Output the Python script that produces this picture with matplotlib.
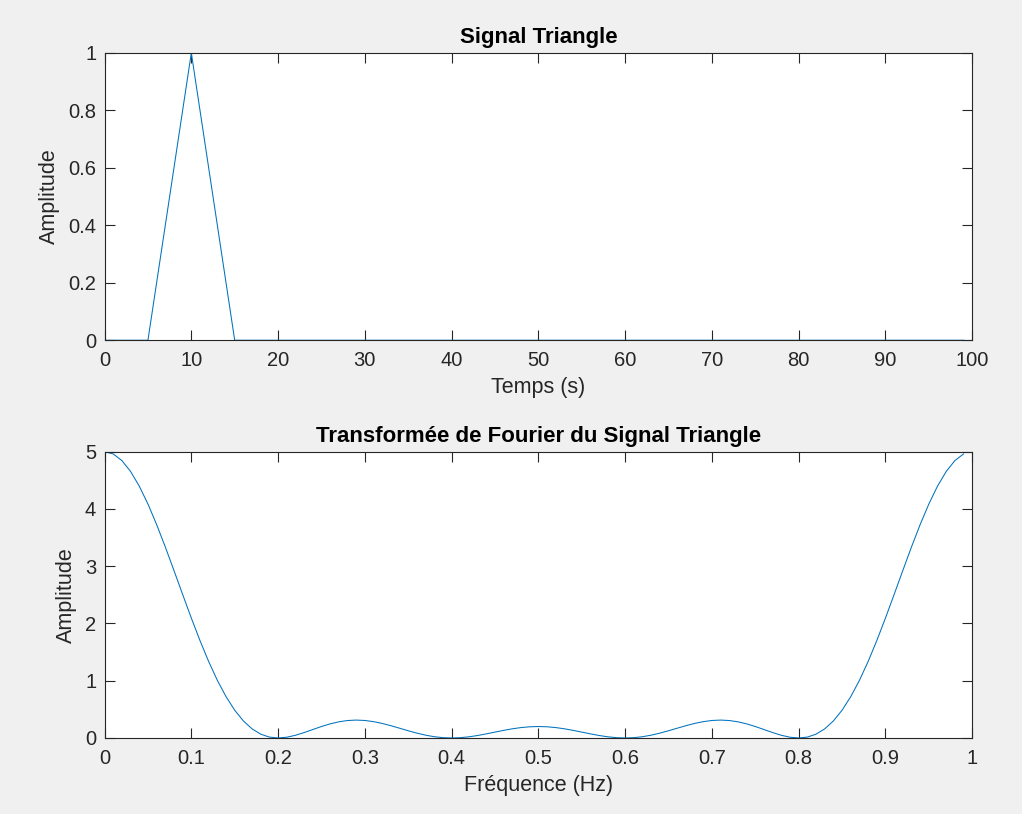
import numpy as np
import matplotlib
matplotlib.use("Agg")
import matplotlib.pyplot as plt

# Signal: t = 0..99 s, triangle between 5 and 15 s, peak 1 at 10 s
t = list(range(100))
tri_times = [6, 7, 8, 9, 10, 11, 12, 13, 14]
tri_values = [0.2, 0.4, 0.6, 0.8, 1.0, 0.8, 0.6, 0.4, 0.2]
signal = [0.0] * 100
for ti, v in zip(tri_times, tri_values):
    signal[ti] = v

# Fourier transform magnitude of the plotted signal
spectrum = np.abs(np.fft.fft(signal))
freqs = np.arange(len(signal)) / len(signal)

xticks_top = [0, 10, 20, 30, 40, 50, 60, 70, 80, 90, 100]
yticks_top = [0, 0.2, 0.4, 0.6, 0.8, 1]
xticks_bot = [0, 0.1, 0.2, 0.3, 0.4, 0.5, 0.6, 0.7, 0.8, 0.9, 1]
yticks_bot = [0, 1, 2, 3, 4, 5]

plt.rcParams['font.family'] = ['Liberation Sans', 'DejaVu Sans']
line_color = '#0072BD'
bg = '#f0f0f0'
txt = '#262626'
fs_tick = 14.5
fs_label = 15.5
fs_title = 16

fig = plt.figure(figsize=(10.22, 8.14), dpi=100, facecolor=bg)
ax1 = fig.add_axes([0.1023, 0.582, 0.849, 0.353])
ax2 = fig.add_axes([0.1023, 0.0934, 0.849, 0.3517])

def style(ax):
    for s in ax.spines.values():
        s.set_color(txt)
        s.set_linewidth(0.8)
    ax.tick_params(direction='in', length=7, width=0.8, colors=txt,
                   labelsize=fs_tick, top=True, right=True)
    ax.tick_params(axis='x', pad=8)
    ax.tick_params(axis='y', pad=6)

ax1.plot(t, signal, color=line_color, linewidth=0.75)
ax1.set_xlim(0, 100)
ax1.set_ylim(0, 1)
ax1.set_xticks(xticks_top)
ax1.set_yticks(yticks_top)
ax1.set_yticklabels(['0', '0.2', '0.4', '0.6', '0.8', '1'])
ax1.set_xlabel('Temps (s)', fontsize=fs_label, color=txt, labelpad=5)
ax1.set_ylabel('Amplitude', fontsize=fs_label, color=txt, labelpad=6)
ax1.set_title('Signal Triangle', fontsize=fs_title, fontweight='bold', pad=7)
style(ax1)

ax2.plot(freqs, spectrum, color=line_color, linewidth=0.75)
ax2.set_xlim(0, 1)
ax2.set_ylim(0, 5)
ax2.set_xticks(xticks_bot)
ax2.set_xticklabels(['0', '0.1', '0.2', '0.3', '0.4', '0.5', '0.6', '0.7', '0.8', '0.9', '1'])
ax2.set_yticks(yticks_bot)
ax2.set_xlabel('Fréquence (Hz)', fontsize=fs_label, color=txt, labelpad=5)
ax2.set_ylabel('Amplitude', fontsize=fs_label, color=txt, labelpad=6)
ax2.set_title('Transformée de Fourier du Signal Triangle', fontsize=fs_title,
              fontweight='bold', pad=7)
style(ax2)

fig.savefig('out.png', dpi=100, facecolor=bg)
